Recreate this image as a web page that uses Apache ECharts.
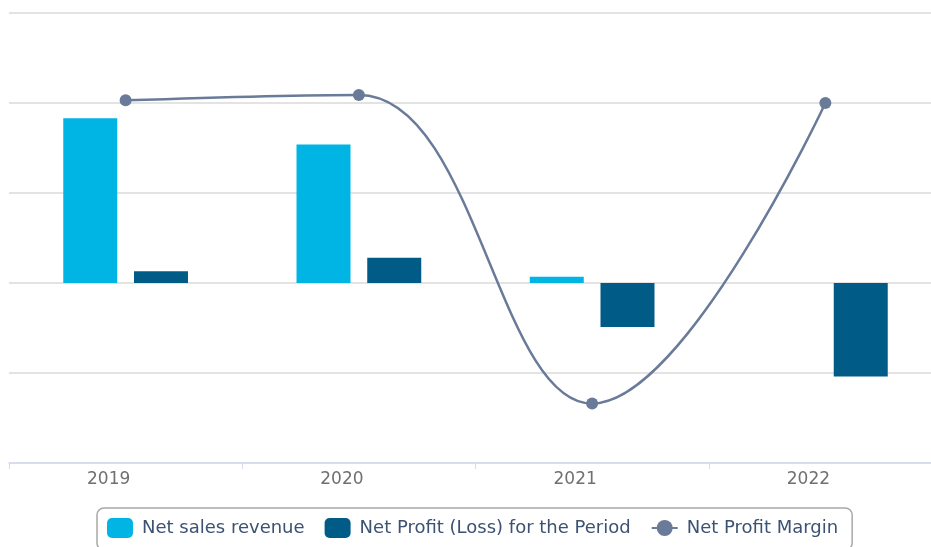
<!DOCTYPE html>
<html>
<head>
<meta charset="utf-8">
<script src="https://cdn.jsdelivr.net/npm/echarts@6/dist/echarts.min.js"></script>
<style>
html,body{margin:0;padding:0;background:#fff;}
#chart{width:931px;height:547px;}
</style>
</head>
<body>
<div id="chart"></div>
<script>
var categories = ['2019', '2020', '2021', '2022'];
var netSalesRevenue = [183, 154, 7, 0];
var netProfit = [13, 28, -49, -104];
var netProfitMargin = [20.3, 20.9, -13.4, 20.0];

var chart = echarts.init(document.getElementById('chart'));
chart.setOption({
  animation: false,
  backgroundColor: '#fff',
  grid: { left: 9, top: 13, width: 933, height: 450, containLabel: false, outerBoundsMode: 'none' },
  legend: {
    left: 97, top: 508,
    padding: [10, 14, 12, 10],
    borderColor: '#a8a8a8', borderWidth: 1.5, borderRadius: 7,
    itemWidth: 26, itemHeight: 20, itemGap: 20,
    textStyle: { fontSize: 18, color: '#3b5272', fontFamily: 'DejaVu Sans', padding: [0, 0, 0, 4] },
    data: [
      { name: 'Net sales revenue', icon: 'roundRect' },
      { name: 'Net Profit (Loss) for the Period', icon: 'roundRect' },
      { name: 'Net Profit Margin' }
    ]
  },
  xAxis: {
    type: 'category', data: categories,
    axisLine: { onZero: false, lineStyle: { color: '#d3ddec', width: 1.5 } },
    axisTick: { show: true, length: 6, lineStyle: { color: '#d3ddec' } },
    axisLabel: { color: '#707070', fontSize: 17, margin: 8, fontFamily: 'DejaVu Sans', padding: [0, 34, 0, 0] }
  },
  yAxis: [
    { type: 'value', min: -200, max: 300, interval: 100,
      axisLabel: { show: false }, axisLine: { show: false }, axisTick: { show: false },
      splitLine: { lineStyle: { color: '#e3e3e3', width: 2 } } },
    { type: 'value', min: -20, max: 30, interval: 10,
      axisLabel: { show: false }, axisLine: { show: false }, axisTick: { show: false },
      splitLine: { show: false } }
  ],
  series: [
    { name: 'Net sales revenue', type: 'bar', data: netSalesRevenue,
      barWidth: 54, barGap: '31%', itemStyle: { color: '#00b5e4' } },
    { name: 'Net Profit (Loss) for the Period', type: 'bar', data: netProfit,
      barWidth: 54, itemStyle: { color: '#005c87' } },
    { name: 'Net Profit Margin', type: 'line', yAxisIndex: 1, data: netProfitMargin,
      smooth: 0.4, symbol: 'circle', symbolSize: 12,
      lineStyle: { color: '#6a7b9a', width: 2.5 }, itemStyle: { color: '#6a7b9a' } }
  ]
});
</script>
</body>
</html>
